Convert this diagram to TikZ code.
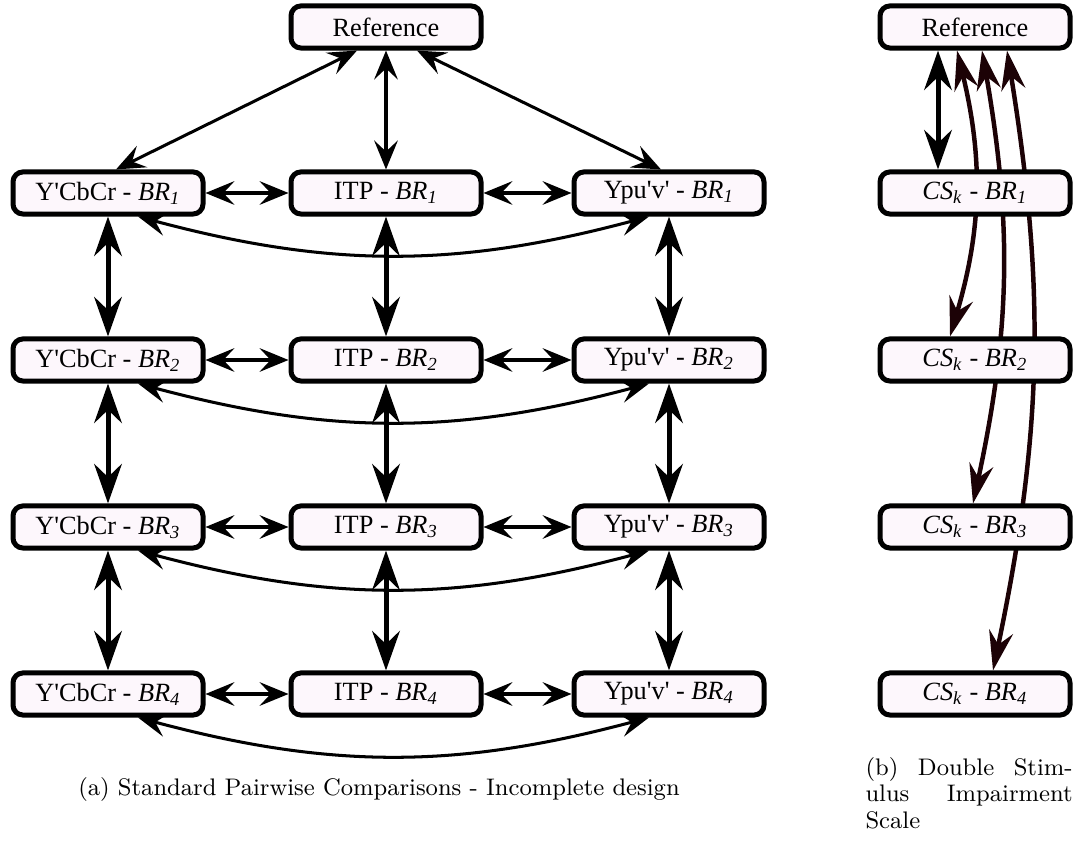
\documentclass[tikz,border=0pt]{standalone}
\usepackage{fontspec}
\newfontfamily\diafont[Ligatures=TeXOff]{Liberation Serif}
\usepackage{tikz}
\usetikzlibrary{arrows.meta}
\usetikzlibrary{calc, backgrounds}
\definecolor{boxfill}{RGB}{253,247,252}
\definecolor{dsisdark}{RGB}{28,2,6}
\newcommand{\br}[1]{\textit{BR}\textsubscript{\textit{#1}}}
\newcommand{\csk}{\textit{CS}\textsubscript{\textit{k}}}
\newcommand{\capfont}{\fontsize{9.1pt}{10pt}\selectfont}
\tikzset{
    box/.style={draw, line width=1.9pt, rounded corners=3.8pt, fill=boxfill,
        minimum width=72.2pt, minimum height=16pt, inner sep=0pt, font=\diafont},
    thin arrow/.style={line width=1.15pt,
        {Stealth[length=11pt, width=9pt, inset=4.2pt]}-{Stealth[length=11pt, width=9pt, inset=4.2pt]}},
    thick arrow/.style={line width=1.9pt,
        {Stealth[length=15pt, width=10.5pt, inset=5pt]}-{Stealth[length=15pt, width=10.5pt, inset=5pt]}},
    dsis arrow/.style={color=dsisdark, line width=1.7pt,
        {Stealth[length=15pt, width=9.2pt, inset=5pt]}-{Stealth[length=15pt, width=9.2pt, inset=5pt]}}
}

\begin{document}
\begin{tikzpicture}[x=0.38pt, y=0.38pt]
    \useasboundingbox (0,0) rectangle (1075,-860);
    % (a) pairwise comparisons
    \node[box] (ref) at (386,-27) {Reference};
    \node[box] (Y1) at (108,-193) {Y'CbCr - \br{1}};
    \node[box] (I1) at (386,-193) {ITP - \br{1}};
    \node[box] (U1) at (669,-193) {Ypu'v' - \br{1}};
    \node[box] (Y2) at (108,-360) {Y'CbCr - \br{2}};
    \node[box] (I2) at (386,-360) {ITP - \br{2}};
    \node[box] (U2) at (669,-360) {Ypu'v' - \br{2}};
    \node[box] (Y3) at (108,-527) {Y'CbCr - \br{3}};
    \node[box] (I3) at (386,-527) {ITP - \br{3}};
    \node[box] (U3) at (669,-527) {Ypu'v' - \br{3}};
    \node[box] (Y4) at (108,-694) {Y'CbCr - \br{4}};
    \node[box] (I4) at (386,-694) {ITP - \br{4}};
    \node[box] (U4) at (669,-694) {Ypu'v' - \br{4}};
    % (b) DSIS
    \node[box] (refb) at (975,-27) {Reference};
    \node[box] (C1) at (975,-193) {\csk{} - \br{1}};
    \node[box] (C2) at (975,-360) {\csk{} - \br{2}};
    \node[box] (C3) at (975,-527) {\csk{} - \br{3}};
    \node[box] (C4) at (975,-694) {\csk{} - \br{4}};
    % captions
    \node[font=\capfont, inner sep=0pt, anchor=base] (capa) at (379,-795)
        {(a) Standard Pairwise Comparisons - Incomplete design};
    \node[font=\capfont, inner sep=0pt, anchor=north west, text width=78.7pt, align=left] (capb) at (865,-757)
        {(b)\hfill Double\hfill Stim-\\ulus\hfill Impairment\\Scale};
    \begin{scope}[on background layer]
        \draw[thin arrow] ($(ref.south)+(-29,0)$) -- ($(Y1.north)+(8,0)$);
        \draw[thin arrow] (ref) -- (I1);
        \draw[thin arrow] ($(ref.south)+(31,0)$) -- ($(U1.north)+(-8,0)$);
        \draw[thin arrow] (Y1) -- (I1);
        \draw[thin arrow] (I1) -- (U1);
        \draw[thin arrow] (Y2) -- (I2);
        \draw[thin arrow] (I2) -- (U2);
        \draw[thin arrow] (Y3) -- (I3);
        \draw[thin arrow] (I3) -- (U3);
        \draw[thin arrow] (Y4) -- (I4);
        \draw[thin arrow] (I4) -- (U4);
        \draw[thin arrow] ($(Y1.south)+(30,0)$) to[bend right=15] ($(U1.south)+(-20,0)$);
        \draw[thin arrow] ($(Y2.south)+(30,0)$) to[bend right=15] ($(U2.south)+(-20,0)$);
        \draw[thin arrow] ($(Y3.south)+(30,0)$) to[bend right=15] ($(U3.south)+(-20,0)$);
        \draw[thin arrow] ($(Y4.south)+(30,0)$) to[bend right=15] ($(U4.south)+(-20,0)$);
        \draw[thick arrow] (Y1) -- (Y2);
        \draw[thick arrow] (Y2) -- (Y3);
        \draw[thick arrow] (Y3) -- (Y4);
        \draw[thick arrow] (I1) -- (I2);
        \draw[thick arrow] (I2) -- (I3);
        \draw[thick arrow] (I3) -- (I4);
        \draw[thick arrow] (U1) -- (U2);
        \draw[thick arrow] (U2) -- (U3);
        \draw[thick arrow] (U3) -- (U4);
        \draw[thick arrow] ($(refb.south)+(-37,0)$) -- ($(C1.north)+(-37,0)$);
        \draw[dsis arrow] ($(refb.south)+(-18,0)$) to[bend left=15] ($(C2.north)+(-25,0)$);
        \draw[dsis arrow] ($(refb.south)+(7,0)$) to[bend left=11] ($(C3.north)+(-2,0)$);
        \draw[dsis arrow] ($(refb.south)+(32,0)$) to[bend left=10.5] ($(C4.north)+(18,0)$);
    \end{scope}
\end{tikzpicture}
\end{document}
